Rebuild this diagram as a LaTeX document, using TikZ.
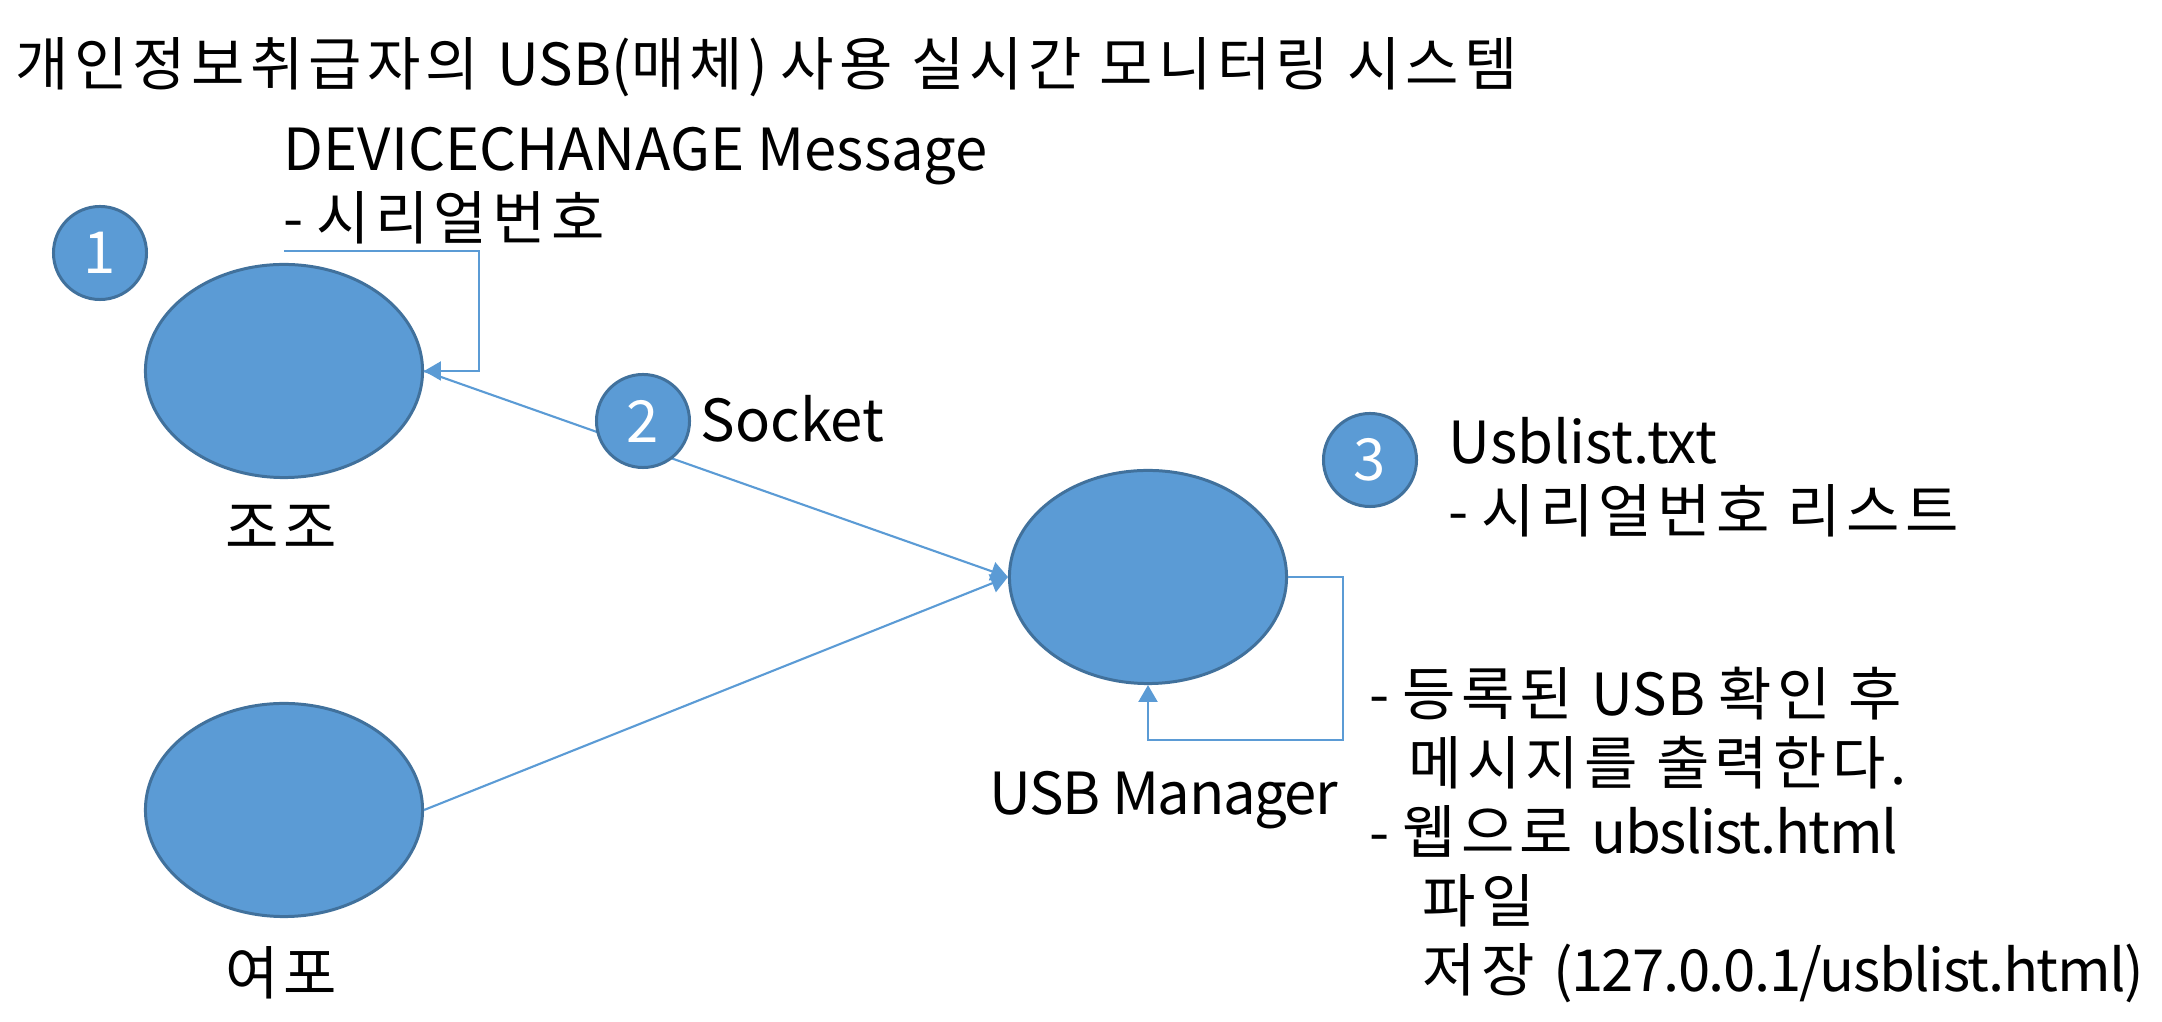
\documentclass[tikz,border=0pt]{standalone}
\usepackage{fontspec}
\setmainfont{Noto Sans CJK KR}
\usetikzlibrary{arrows.meta,positioning,shapes.geometric}
\definecolor{usbblue}{HTML}{5B9BD5}
\definecolor{usbedge}{HTML}{41719C}
% a little air after every Hangul syllable
\XeTeXinterchartokenstate=1
\newXeTeXintercharclass\hangulclass
\count255="AC00
\loop
	\XeTeXcharclass\count255=\hangulclass
	\ifnum\count255<"D7A3 \advance\count255 by 1 \repeat
\XeTeXinterchartoks\hangulclass\hangulclass={\kern.09em\relax}
\XeTeXinterchartoks\hangulclass 0={\kern.09em\relax}
\XeTeXinterchartoks\hangulclass 4095={\kern.09em\relax}
\newcommand\tightlatin[1]{{\addfontfeature{LetterSpace=-2.5}#1}}
\begin{document}
\begin{tikzpicture}[
	x=0.01cm, y=-0.01cm,
	every node/.style={font=\fontsize{16.5pt}{19.6pt}\selectfont},
	host/.style={ellipse, draw=usbedge, fill=usbblue, line width=0.85pt, minimum width=2.77cm, minimum height=2.13cm, inner sep=0pt},
	badge/.style={circle, draw=usbedge, fill=usbblue, line width=0.85pt, minimum size=0.93cm, inner sep=0pt, text=white},
	note/.style={anchor=base west, inner sep=0pt},
	hostlabel/.style={anchor=base, inner sep=0pt},
	flow/.style={->, draw=usbblue, line width=0.6pt},
	>={Triangle[length=4.8pt,width=5.4pt]}
	]
	\useasboundingbox (0,0) rectangle (2162,1022);
	
	%-----------------------
	% Customizable heights
	%-----------------------
	\def\hjojo{371}   % upper client
	\def\hyeopo{810}  % lower client
	\def\husb{577}    % manager
	
	%-----------------------
	% Title
	%-----------------------
	\node[note] (title) at (15,86) {개인정보취급자의 USB(매체) 사용 실시간 모니터링 시스템};
	
	%-----------------------
	% Clients and manager
	%-----------------------
	\node[host] (jojo)  at (284,\hjojo)  {};
	\node[host] (yeopo) at (284,\hyeopo) {};
	\node[host] (usb)   at (1148,\husb)  {};
	
	\node[hostlabel] (jojo-name)  at (284,549) {조조};
	\node[hostlabel] (yeopo-name) at (284,995) {여포};
	\node[note] (usb-name) at (989,815) {\tightlatin{USB Manager}};
	
	%-----------------------
	% Notes (first line on the baseline)
	%-----------------------
	\node[note] (devmsg) at (283,171) {\begin{tabular}[t]{@{}l@{}}
		DEVICECHANAGE Message\\
		- 시리얼번호
		\end{tabular}};
	\node[note] (socket) at (700,442) {Socket};
	\node[note] (usblist) at (1448,464) {\begin{tabular}[t]{@{}l@{}}
		Usblist.txt\\
		- 시리얼번호 리스트
		\end{tabular}};
	\node[note] (usbnote) at (1369,716) {\begin{tabular}[t]{@{}l@{}}
		- 등록된 USB 확인 후\\
		\phantom{- }\hspace*{0.06cm}메시지를 출력한다.\\
		- 웹으로 \tightlatin{ubslist.html}\\
		\phantom{- }\hspace*{0.2cm}파일\\
		\phantom{- }\hspace*{0.2cm}저장 \tightlatin{(127.0.0.1/usblist.html)}
		\end{tabular}};
	
	%-----------------------
	% Connections
	%-----------------------
	\coordinate[above=1.2mm of jojo] (jojo-top);
	\coordinate (jojo-turn) at (479,\hjojo);
	\coordinate (usb-turn)  at (1343,740);
	
	% self message on the client
	\draw[flow] (jojo-top) -| (jojo-turn) -- (jojo.east);
	
	% clients -> manager
	\draw[flow] (jojo.east) -- (usb.west);
	\draw[flow] (yeopo.east) -- (usb.west);
	
	% manager checks its own list
	\draw[flow] (usb.east) -| (usb-turn) -| (usb.south);
	
	%-----------------------
	% Step numbers
	%-----------------------
	\node[badge] (num1) at (100,253)  {1};
	\node[badge] (num2) at (643,421)  {2};
	\node[badge] (num3) at (1370,460) {3};
	
\end{tikzpicture}
\end{document}
